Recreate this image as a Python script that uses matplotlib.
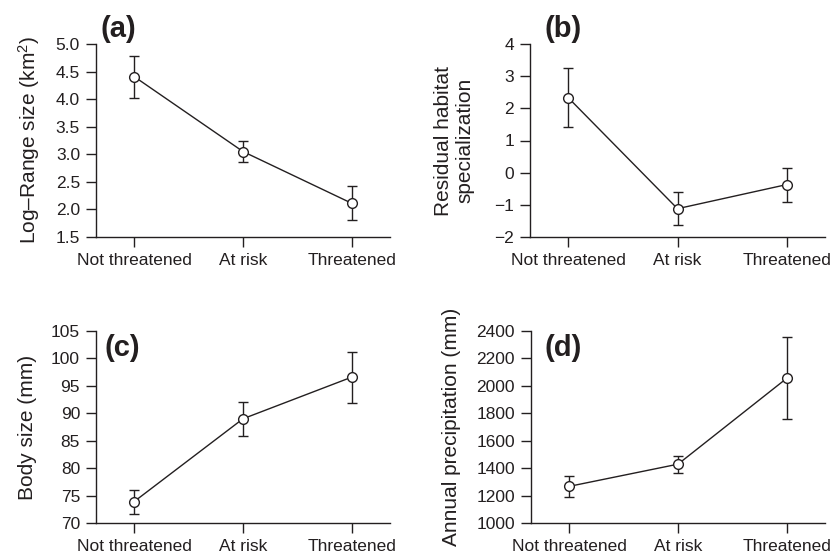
import numpy as np
import matplotlib
matplotlib.use("Agg")
import matplotlib.pyplot as plt

plt.rcParams['font.family'] = ['Liberation Sans', 'DejaVu Sans']
plt.rcParams['mathtext.fontset'] = 'custom'
plt.rcParams['mathtext.rm'] = 'Liberation Sans'
plt.rcParams['mathtext.it'] = 'Liberation Sans:italic'

ink = '#231f20'

categories = ["Not threatened", "At risk", "Threatened"]

range_mean = [4.41, 3.05, 2.11]
range_low = [4.02, 2.86, 1.81]
range_high = [4.79, 3.245, 2.43]

habitat_mean = [2.33, -1.12, -0.37]
habitat_low = [1.41, -1.64, -0.91]
habitat_high = [3.26, -0.60, 0.15]

body_mean = [73.9, 89.0, 96.6]
body_low = [71.7, 85.9, 91.95]
body_high = [76.05, 92.1, 101.2]

precip_mean = [1267, 1429, 2056]
precip_low = [1189, 1368, 1757]
precip_high = [1340, 1485, 2359]

W, H = 834, 560
fig = plt.figure(figsize=(W / 100, H / 100), dpi=100)


def px_axes(left, top, right, bottom):
    return fig.add_axes([left / W, 1 - bottom / H, (right - left) / W, (bottom - top) / H])


panels = [
    dict(box=(96, 44, 390, 237), mean=range_mean, low=range_low, high=range_high,
         ylim=(1.5, 5.0), ticks=np.arange(1.5, 5.01, 0.5), fmt="%.1f",
         ylabel="Log\u2013Range size (km$^2$)", labx=-0.185,
         tag="(a)", tagpos=(101, 37)),
    dict(box=(530, 44, 825, 237), mean=habitat_mean, low=habitat_low, high=habitat_high,
         ylim=(-2, 4), ticks=np.arange(-2, 4.1, 1), fmt="%d",
         ylabel="Residual habitat\nspecialization", labx=-0.19,
         tag="(b)", tagpos=(545, 37)),
    dict(box=(96, 331, 390, 523), mean=body_mean, low=body_low, high=body_high,
         ylim=(70, 105), ticks=np.arange(70, 106, 5), fmt="%d",
         ylabel="Body size (mm)", labx=-0.2,
         tag="(c)", tagpos=(104, 356)),
    dict(box=(531, 331, 825, 523), mean=precip_mean, low=precip_low, high=precip_high,
         ylim=(1000, 2400), ticks=np.arange(1000, 2401, 200), fmt="%d",
         ylabel="Annual precipitation (mm)", labx=-0.238,
         tag="(d)", tagpos=(544, 356)),
]

x = np.arange(1, len(categories) + 1)

for p in panels:
    ax = px_axes(*p['box'])
    mean = np.array(p['mean'])
    yerr = [mean - np.array(p['low']), np.array(p['high']) - mean]
    ax.errorbar(x, mean, yerr=yerr, fmt='none', ecolor=ink, elinewidth=1.0,
                capsize=3.5, capthick=1.0, zorder=2)
    ax.plot(x, mean, '-', color=ink, lw=1.0, zorder=3)
    ax.plot(x, mean, 'o', ms=7, mfc='white', mec=ink, mew=1.0, zorder=4)

    ax.set_xlim(0.65, 3.35)
    ax.set_ylim(*p['ylim'])
    ax.set_xticks(x)
    ax.set_xticklabels(categories)
    ax.set_yticks(p['ticks'])
    ax.set_yticklabels([(p['fmt'] % t).replace('-', '\u2212') for t in p['ticks']])

    for s in ['top', 'right']:
        ax.spines[s].set_visible(False)
    for s in ['left', 'bottom']:
        ax.spines[s].set_linewidth(1.0)
        ax.spines[s].set_color(ink)
    ax.tick_params(direction='out', length=7.5, width=1.0, color=ink,
                   labelsize=12.5, labelcolor=ink)
    ax.tick_params(axis='y', pad=4)
    ax.tick_params(axis='x', pad=4)

    ax.set_ylabel(p['ylabel'], fontsize=15, color=ink, linespacing=1.15)
    ax.yaxis.set_label_coords(p['labx'], 0.5)

    fig.text(p['tagpos'][0] / W, 1 - p['tagpos'][1] / H, p['tag'], fontsize=21,
             fontweight='bold', color=ink, ha='left', va='baseline')

fig.savefig("out.png", dpi=100)
